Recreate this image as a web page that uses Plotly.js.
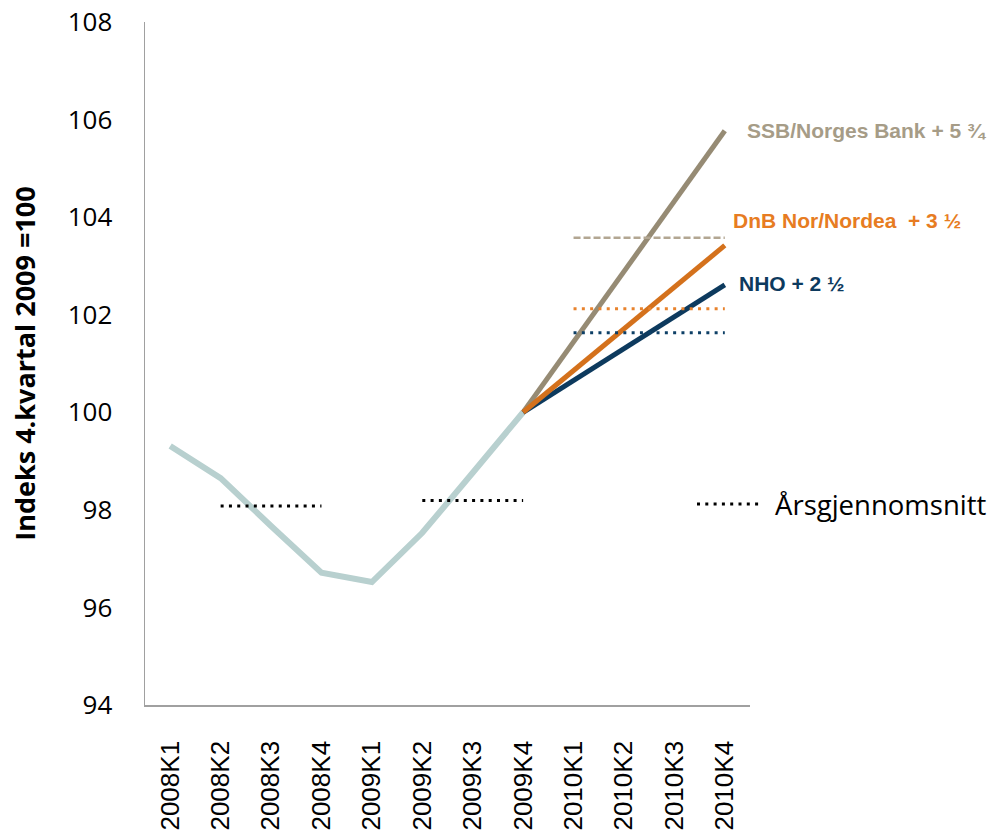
<!DOCTYPE html>
<html>
<head>
<meta charset="utf-8">
<script src="https://cdn.plot.ly/plotly-3.0.1.min.js"></script>
<style>html,body{margin:0;padding:0;background:#fff;}#chart{width:992px;height:835px;}</style>
</head>
<body>
<div id="chart"></div>
<script>
// Categories (quarters)
const categories = ['2008K1','2008K2','2008K3','2008K4','2009K1','2009K2','2009K3','2009K4','2010K1','2010K2','2010K3','2010K4'];

// Historical index (4. kvartal 2009 = 100)
const history = [99.31, 98.65, 97.67, 96.71, 96.52, 97.53, 98.76, 100, null, null, null, null];

// Forecasts from 2009K4
const ssb = [null, null, null, null, null, null, null, 100, 101.44, 102.88, 104.31, 105.77];
const dnb = [null, null, null, null, null, null, null, 100, 100.86, 101.71, 102.56, 103.42];
const nho = [null, null, null, null, null, null, null, 100, 100.65, 101.3, 101.95, 102.61];

// Annual averages (Årsgjennomsnitt)
const avg2008 = [null, 98.08, 98.08, 98.08, null, null, null, null, null, null, null, null];
const avg2009 = [null, null, null, null, null, 98.19, 98.19, 98.19, null, null, null, null];
const avgSsb2010 = [null, null, null, null, null, null, null, null, 103.58, 103.58, 103.58, 103.58];
const avgDnb2010 = [null, null, null, null, null, null, null, null, 102.12, 102.12, 102.12, 102.12];
const avgNho2010 = [null, null, null, null, null, null, null, null, 101.63, 101.63, 101.63, 101.63];

// Labels
const seriesLabels = ['SSB/Norges Bank + 5 ¾', 'DnB Nor/Nordea  + 3 ½', 'NHO + 2 ½'];
const legendLabel = 'Årsgjennomsnitt';
const yTicks = [94, 96, 98, 100, 102, 104, 106, 108];

const C_HIST = '#b8d0cf';
const C_SSB = '#968b74';
const C_SSB_TXT = '#a69c87';
const C_DNB = '#d4711c';
const C_DNB_TXT = '#e77c22';
const C_NHO = '#0d3a5e';

const line = (y, color, width, dash) => ({
  type: 'scatter', mode: 'lines', x: categories, y: y,
  line: {color: color, width: width, dash: dash || 'solid'},
  connectgaps: false, hoverinfo: 'skip', showlegend: false
});

const traces = [
  line(history, C_HIST, 6),
  line(ssb, C_SSB, 5),
  line(nho, C_NHO, 5),
  line(dnb, C_DNB, 5),
  line(avg2008, '#000000', 3, '3px,5.3px'),
  line(avg2009, '#000000', 3, '3px,5.3px'),
  line(avgSsb2010, '#b2a692', 2.5, '7px,3px'),
  line(avgDnb2010, '#e8822c', 3, '3px,5.3px'),
  line(avgNho2010, '#0d3f66', 3, '3px,5.3px')
];

const layout = {
  width: 992, height: 835,
  margin: {l: 145, r: 242, t: 22, b: 130},
  paper_bgcolor: '#ffffff', plot_bgcolor: '#ffffff',
  showlegend: false,
  xaxis: {
    type: 'category', categoryorder: 'array', categoryarray: categories,
    range: [-0.5, 11.5], showgrid: false, zeroline: false,
    showline: true, linecolor: '#a0a0a0', linewidth: 1.5,
    ticks: '', tickangle: -90, ticklabelstandoff: 24,
    tickfont: {family: 'Liberation Sans, Arial, sans-serif', size: 26, color: '#000'}
  },
  yaxis: {
    range: [94, 108], tickvals: yTicks, ticktext: yTicks.map(String),
    showgrid: false, zeroline: false,
    showline: true, linecolor: '#a0a0a0', linewidth: 1.5,
    ticks: '', ticklabelstandoff: 26,
    tickfont: {family: 'Open Sans, sans-serif', size: 26, color: '#000'},
    title: {text: 'Indeks 4.kvartal 2009 =100', standoff: 24,
            font: {family: 'Open Sans, sans-serif', size: 27, color: '#000', weight: 'bold'}}
  },
  shapes: [{
    type: 'line', xref: 'paper', yref: 'paper',
    x0: (697 - 145) / 605, x1: (760 - 145) / 605, y0: (705 - 504) / 683, y1: (705 - 504) / 683,
    line: {color: '#000', width: 3, dash: '3px,5.3px'}
  }],
  annotations: [
    {x: '2010K4', y: 105.78, xref: 'x', yref: 'y', xanchor: 'left', yanchor: 'middle', xshift: 20,
     text: '<b>' + seriesLabels[0] + '</b>', showarrow: false,
     font: {family: 'Liberation Sans, Arial, sans-serif', size: 21, color: C_SSB_TXT}},
    {x: '2010K4', y: 103.94, xref: 'x', yref: 'y', xanchor: 'left', yanchor: 'middle', xshift: 6,
     text: '<b>' + seriesLabels[1].replace('  ', '&nbsp; ') + '</b>', showarrow: false,
     font: {family: 'Liberation Sans, Arial, sans-serif', size: 21, color: C_DNB_TXT}},
    {x: '2010K4', y: 102.65, xref: 'x', yref: 'y', xanchor: 'left', yanchor: 'middle', xshift: 12,
     text: '<b>' + seriesLabels[2] + '</b>', showarrow: false,
     font: {family: 'Liberation Sans, Arial, sans-serif', size: 21, color: C_NHO}},
    {x: (773 - 145) / 605, y: (705 - 504) / 683, xref: 'paper', yref: 'paper', xanchor: 'left', yanchor: 'middle',
     text: legendLabel, showarrow: false,
     font: {family: 'Open Sans, sans-serif', size: 27.5, color: '#000'}}
  ]
};

Plotly.newPlot('chart', traces, layout, {displayModeBar: false, staticPlot: true});
</script>
</body>
</html>
